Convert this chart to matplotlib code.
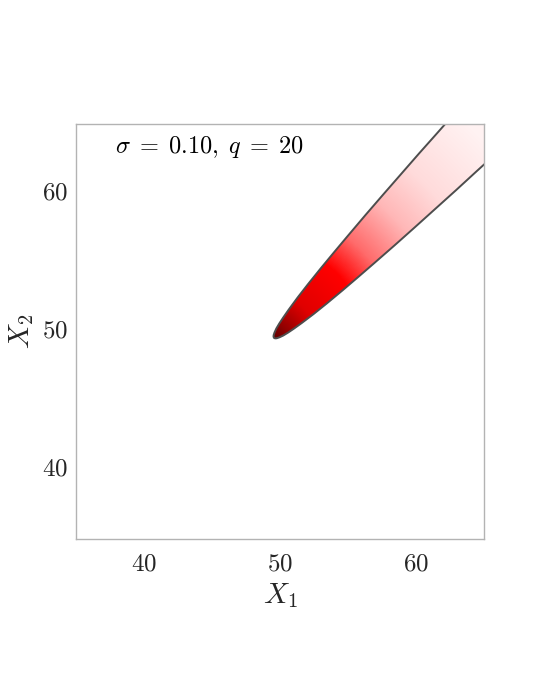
import numpy as np
import matplotlib
matplotlib.use("Agg")
import matplotlib.pyplot as plt
from matplotlib.colors import LinearSegmentedColormap
from matplotlib.patches import Polygon
from matplotlib.transforms import ScaledTranslation

plt.rcParams['mathtext.fontset'] = 'cm'
plt.rcParams['font.family'] = 'serif'

# tip of the region and its half width along the diagonal
tip = (49.55, 49.55)
u_along = [0.0, 0.03, 0.12, 0.3, 0.6, 1.0, 1.5, 2.2, 3.3, 4.5, 6.0, 7.5, 9.0, 11.0, 13.0, 15.0, 17.0, 19.0, 21.0, 23.0, 25.0]
half_width = [0.0, 0.08, 0.16, 0.25, 0.36, 0.46, 0.56, 0.68, 0.84, 0.98, 1.13, 1.26, 1.38, 1.53, 1.66, 1.78, 1.90, 2.00, 2.11, 2.21, 2.30]

# colour along distance from the tip
dist_nodes = [0.0, 1.0, 3.0, 6.5, 9.0, 12.4, 15.7, 21.0, 28.0]
dist_colors = [(0.40, 0.0, 0.0), (0.58, 0.0, 0.0), (0.88, 0.0, 0.0), (1.0, 0.0, 0.0),
               (1.0, 0.42, 0.42), (1.0, 0.72, 0.72), (1.0, 0.86, 0.86), (1.0, 0.95, 0.95),
               (1.0, 0.985, 0.985)]

xlim = (35, 65)
ylim = (35, 65)
xticks = [40, 50, 60]
yticks = [40, 50, 60]
label = r'$\sigma\;=\;0.10,\;q\;=\;20$'

fig = plt.figure(figsize=(5.4, 6.99), dpi=100)
ax = fig.add_axes([76 / 540, 1 - 539 / 699, 408.3 / 540, 414.7 / 699])

u = np.array(u_along)
w = np.array(half_width)
d = np.array([1.0, 1.0]) / np.sqrt(2)
n = np.array([-1.0, 1.0]) / np.sqrt(2)
upper = np.column_stack([tip[0] + u * d[0] + w * n[0], tip[1] + u * d[1] + w * n[1]])
lower = np.column_stack([tip[0] + u * d[0] - w * n[0], tip[1] + u * d[1] - w * n[1]])
pts = np.vstack([upper[::-1], lower[1:]])

cmap = LinearSegmentedColormap.from_list(
    'tipred', list(zip(np.array(dist_nodes) / dist_nodes[-1], dist_colors)))
gx = np.linspace(xlim[0], xlim[1], 600)
gy = np.linspace(ylim[0], ylim[1], 600)
GX, GY = np.meshgrid(gx, gy)
R = np.hypot(GX - tip[0], GY - tip[1])
im = ax.imshow(R, origin='lower', extent=(xlim[0], xlim[1], ylim[0], ylim[1]),
               cmap=cmap, vmin=0, vmax=dist_nodes[-1], interpolation='bilinear',
               aspect='auto', zorder=1)
poly = Polygon(pts, closed=True, facecolor='none', edgecolor='#4d4d4d', lw=1.4, zorder=2)
ax.add_patch(poly)
im.set_clip_path(poly)

ax.set_xlim(*xlim)
ax.set_ylim(*ylim)
ax.set_xticks(xticks)
ax.set_yticks(yticks)
ax.set_xticklabels(['$%d$' % t for t in xticks], fontsize=18)
ax.set_yticklabels(['$%d$' % t for t in yticks], fontsize=18)
ax.tick_params(axis='x', length=0, pad=10, colors='#262626')
ax.tick_params(axis='y', length=0, pad=6, colors='#262626')
shift = ScaledTranslation(0, 3 / 100, fig.dpi_scale_trans)
for lbl in ax.get_yticklabels():
    lbl.set_transform(lbl.get_transform() + shift)
for s in ax.spines.values():
    s.set_color('#b3b3b3')
    s.set_linewidth(1.0)

ax.set_xlabel('$X_1$', fontsize=21, color='#262626', labelpad=4)
ax.set_ylabel('$X_2$', fontsize=21, color='#262626', labelpad=4)
ax.text(0.095, 0.945, label, transform=ax.transAxes, fontsize=17.5,
        ha='left', va='center', color='black')

fig.savefig('out.png', dpi=100)
